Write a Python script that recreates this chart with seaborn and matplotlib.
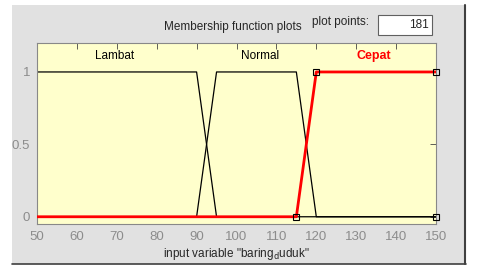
import matplotlib.pyplot as plt
import matplotlib.patches as patches
import pandas as pd
import seaborn as sns

# membership function breakpoints (input variable "baring_duduk")
lambat_x = [50, 90, 95, 150]
lambat_y = [1, 1, 0, 0]
normal_x = [50, 90, 95, 115, 120, 150]
normal_y = [0, 0, 1, 1, 0, 0]
cepat_x = [50, 115, 120, 150]
cepat_y = [0, 0, 1, 1]
cepat_markers_x = [115, 120, 150, 150]
cepat_markers_y = [0, 1, 1, 0]

mf_names = ["Lambat", "Normal", "Cepat"]
mf_label_x = [69.5, 106, 134.5]
x_ticks = [50, 60, 70, 80, 90, 100, 110, 120, 130, 140, 150]
y_ticks = [0, 0.5, 1]
plot_points = "181"

sns.set_style("white")
plt.rcParams["font.family"] = ["Liberation Sans", "DejaVu Sans"]
plt.rcParams["font.size"] = 8

fig = plt.figure(figsize=(4.8, 2.77), dpi=100)
fig.patch.set_facecolor("white")

W, H = 480, 277
# gray window panel
fig.patches.append(patches.Rectangle((12 / W, 1 - 264 / H), 453 / W, 259 / H,
                                     transform=fig.transFigure, facecolor="#e1e1e1",
                                     edgecolor="none", zorder=-5))
fig.add_artist(plt.Line2D([465 / W, 465 / W], [1 - 264 / H, 1 - 5 / H],
                          transform=fig.transFigure, color="#404040", lw=1.5))
fig.add_artist(plt.Line2D([12 / W, 466 / W], [1 - 264 / H, 1 - 264 / H],
                          transform=fig.transFigure, color="#404040", lw=1.2))

ax = fig.add_axes([37 / W, 1 - 224 / H, 399 / W, 181 / H])
ax.set_zorder(5)
ax.set_facecolor("#ffffcc")

df_l = pd.DataFrame({"x": lambat_x, "y": lambat_y})
df_n = pd.DataFrame({"x": normal_x, "y": normal_y})
df_c = pd.DataFrame({"x": cepat_x, "y": cepat_y})
sns.lineplot(data=df_l, x="x", y="y", ax=ax, color="black", lw=0.9, sort=False, zorder=2)
sns.lineplot(data=df_n, x="x", y="y", ax=ax, color="black", lw=0.9, sort=False, zorder=2)
sns.lineplot(data=df_c, x="x", y="y", ax=ax, color="red", lw=2, sort=False, zorder=3)
ax.plot(cepat_markers_x, cepat_markers_y, ls="none", marker="s", ms=4,
        mfc="none", mec="black", mew=0.8, zorder=4, clip_on=False)

for name, lx in zip(mf_names, mf_label_x):
    if name == "Cepat":
        ax.text(lx, 1.11, name, color="red", fontweight="bold", ha="center", va="center", fontsize=9)
    else:
        ax.text(lx, 1.11, name, color="black", ha="center", va="center", fontsize=8.5)

ax.set_xlim(50, 150)
ax.set_ylim(-0.05, 1.2)
ax.set_xticks(x_ticks)
ax.set_yticks(y_ticks)
ax.set_yticklabels(["0", "0.5", "1"])
ax.tick_params(direction="in", length=4, top=True, right=True, colors="#444444",
               labelcolor="#8c8c8c", labelsize=9.5, width=0.6, pad=5)
for s in ax.spines.values():
    s.set_color("#888888")
    s.set_linewidth(0.8)
ax.set_xlabel('input variable "baring$_{\\mathrm{d}}$uduk"', fontsize=8.5, labelpad=2)
ax.set_ylabel("")

fig.text(233 / W, 1 - 27 / H, "Membership function plots", ha="center", va="center", fontsize=8.5)
fig.text(340 / W, 1 - 22 / H, "plot points:", ha="center", va="center", fontsize=8.5)
fig.patches.append(patches.Rectangle((378 / W, 1 - 35 / H), 54 / W, 20 / H,
                                     transform=fig.transFigure, facecolor="white",
                                     edgecolor="#606060", lw=0.8, zorder=1))
fig.text(429 / W, 1 - 25 / H, plot_points, ha="right", va="center", fontsize=8.5)

fig.savefig("out.png", dpi=100)
